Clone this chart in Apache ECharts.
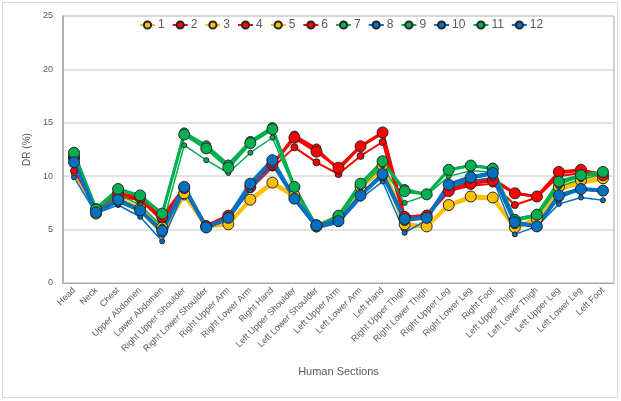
<!DOCTYPE html>
<html><head><meta charset="utf-8">
<script src="https://cdn.jsdelivr.net/npm/echarts@6/dist/echarts.min.js"></script>
<style>html,body{margin:0;padding:0;background:#fff}#c{width:621px;height:401px}</style>
</head><body><div id="c"></div>
<script>
const categories = ["Head","Neck","Chest","Upper Abdomen","Lower Abdomen","Right Upper Shoulder","Right Lower Shoulder","Right Upper Arm","Right Lower Arm","Right Hand","Left Upper Shoulder","Left Lower Shoulder","Left Upper Arm","Left Lower Arm","Left Hand","Right Upper Thigh","Right Lower Thigh","Right Upper Leg","Right Lower Leg","Right Foot","Left Upper Thigh","Left Lower Thigh","Left Upper Leg","Left Lower Leg","Left Foot"];
const seriesNames = ["1","2","3","4","5","6","7","8","9","10","11","12"];
const s1  = [10.2,6.6,7.6,6.6,4.6,8.0,5.3,5.5,7.6,9.2,8.0,5.3,6.0,8.8,10.5,5.0,5.5,7.1,7.9,7.8,5.0,5.8,8.6,9.3,9.6];
const s2  = [10.5,7.0,8.0,7.8,5.8,8.5,5.3,6.2,8.8,10.8,12.7,11.3,10.2,11.9,13.2,5.8,6.3,8.6,9.1,9.3,7.3,8.0,10.0,10.3,10.0];
const s3  = [11.3,6.5,7.8,6.9,5.0,8.3,5.2,5.6,7.7,9.3,8.1,5.3,6.1,8.9,10.8,5.2,5.3,7.2,8.0,7.9,5.1,5.9,8.8,9.4,9.7];
const s4  = [11.6,6.8,8.2,7.9,6.0,8.8,5.4,6.3,8.9,11.0,13.8,12.6,10.6,12.8,14.0,6.1,6.4,8.8,9.5,9.8,8.4,8.1,10.3,10.5,10.2];
const s5  = [11.8,6.5,7.9,7.0,5.2,8.4,5.3,5.5,7.8,9.4,8.2,5.4,6.2,9.0,11.0,5.5,5.3,7.3,8.1,8.0,5.2,6.0,9.0,9.6,9.8];
const s6  = [11.7,6.9,8.4,8.0,6.2,8.9,5.3,6.3,9.0,11.1,13.6,12.3,10.8,12.8,14.1,6.2,6.3,8.6,9.3,9.6,8.4,8.1,10.4,10.6,10.1];
const s7  = [11.8,6.9,8.3,7.3,5.3,12.9,11.5,10.3,12.2,13.6,8.8,5.2,6.1,8.9,11.0,7.5,8.2,10.0,10.5,10.4,5.8,6.2,9.0,9.7,10.2];
const s8  = [9.9,6.5,7.3,6.2,3.9,8.6,5.1,5.9,8.7,11.0,7.8,5.1,5.6,7.9,9.5,4.7,5.9,8.9,9.6,9.8,4.55,5.3,7.4,8.0,7.75];
const s9  = [12.1,7.0,8.8,8.1,6.4,14.1,12.9,11.1,13.3,14.6,9.0,5.3,6.2,9.2,11.3,8.8,8.3,10.6,11.0,10.8,6.0,6.4,9.3,10.0,10.3];
const s10 = [11.6,6.6,7.6,6.8,4.7,8.9,5.2,6.1,9.2,11.4,7.9,5.2,5.7,8.2,10.0,5.8,6.1,9.1,9.8,10.2,5.5,5.3,8.0,8.8,8.6];
const s11 = [12.2,6.9,8.8,8.2,6.5,13.9,12.6,10.8,13.1,14.4,9.0,5.3,6.3,9.3,11.4,8.6,8.3,10.6,11.0,10.7,5.9,6.4,9.5,10.1,10.4];
const s12 = [11.3,6.6,7.8,6.8,4.9,9.0,5.2,6.1,9.3,11.5,7.9,5.4,5.8,8.2,10.2,6.0,6.1,9.2,9.9,10.3,5.7,5.3,8.2,8.8,8.65];
const yTicks = [0,5,10,15,20,25];

const allData = [s1,s2,s3,s4,s5,s6,s7,s8,s9,s10,s11,s12];
const colors = ['#FFC000','#FF0000','#FFC000','#FF0000','#FFC000','#FF0000','#00B050','#0070C0','#00B050','#0070C0','#00B050','#0070C0'];
const symSizes = [5,7,8,9,11,11,5,5,9,9,11,11];
const lineWidths = [1.5,2,2.5,2.5,4,3,1.5,1.5,2.5,2.5,3,4];

const chart = echarts.init(document.getElementById('c'));
chart.setOption({
  animation:false,
  graphic:[{type:'rect',shape:{x:2.5,y:2.5,width:615,height:395},style:{fill:'none',stroke:'#d9d9d9',lineWidth:1},silent:true}],
  legend:{top:14,left:134,itemWidth:15,itemHeight:9,itemGap:7,
    textStyle:{fontSize:12,color:'#595959',fontFamily:'Liberation Sans',padding:[0,0,0,-2]},data:seriesNames},
  grid:{left:63,right:7,top:16,bottom:118,show:true,borderColor:'#a6a6a6',borderWidth:1},
  xAxis:{type:'category',data:categories,boundaryGap:true,
    axisLine:{lineStyle:{color:'#a6a6a6'}},axisTick:{show:false},
    axisLabel:{rotate:45,fontSize:9,color:'#595959',interval:0,fontFamily:'Liberation Sans',margin:6},
    name:'Human Sections',nameLocation:'middle',nameGap:83,
    nameTextStyle:{fontSize:11,color:'#595959',fontFamily:'Liberation Sans'}},
  yAxis:{type:'value',min:yTicks[0],max:yTicks[yTicks.length-1],interval:5,
    axisLine:{show:true,lineStyle:{color:'#a6a6a6',width:1.5}},axisTick:{show:false},
    splitLine:{lineStyle:{color:'#d9d9d9',width:1.5}},
    axisLabel:{fontSize:9,color:'#595959',fontFamily:'Liberation Sans',margin:10},
    name:'DR (%)',nameLocation:'middle',nameGap:30,nameRotate:90,
    nameTextStyle:{fontSize:10,color:'#595959',fontFamily:'Liberation Sans'}},
  series: allData.map((d,i)=>({
    name:seriesNames[i],type:'line',data:d,symbol:'circle',symbolSize:symSizes[i],showSymbol:true,
    lineStyle:{color:colors[i],width:lineWidths[i]},
    itemStyle:{color:colors[i],borderColor:'#262626',borderWidth:1},
    emphasis:{disabled:true}
  }))
});
</script></body></html>
